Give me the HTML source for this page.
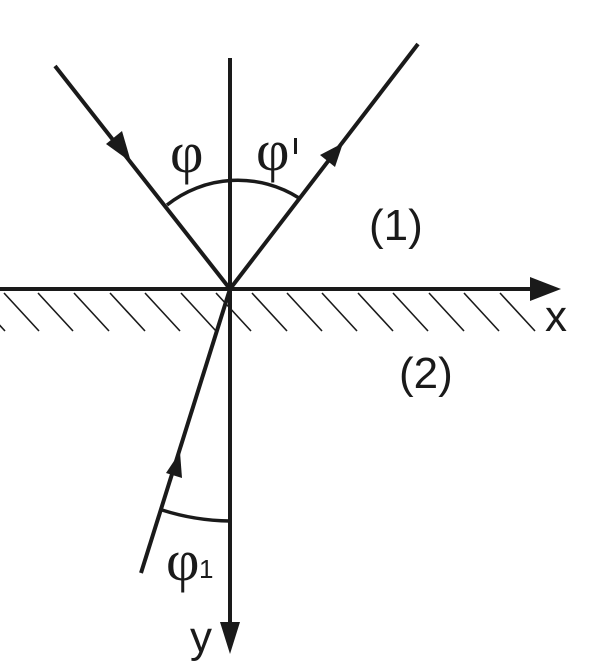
<!DOCTYPE html>
<html><head><style>body{margin:0;background:#fff}svg{display:block}</style></head><body>
<svg width="600" height="668" viewBox="0 0 600 668" xmlns="http://www.w3.org/2000/svg">
<g stroke="#1a1a1a" stroke-width="4" fill="none">
<line x1="230" y1="58" x2="230" y2="630"/>
<line x1="0" y1="289" x2="535" y2="289"/>
<line x1="55" y1="66" x2="230" y2="289"/>
<line x1="230" y1="289" x2="418" y2="44"/>
<line x1="230" y1="289" x2="141" y2="573"/>
<path d="M167 205 A114 114 0 0 1 299 198" stroke-width="3.5"/>
<path d="M162 510 A231 231 0 0 0 230 521" stroke-width="3.5"/>
</g>
<g stroke="#1a1a1a" stroke-width="1.6">
<line x1="-30" y1="293" x2="5" y2="331"/>
<line x1="4" y1="293" x2="39" y2="331"/>
<line x1="38" y1="293" x2="73" y2="331"/>
<line x1="74" y1="293" x2="109" y2="331"/>
<line x1="110" y1="293" x2="145" y2="331"/>
<line x1="145" y1="293" x2="180" y2="331"/>
<line x1="181" y1="293" x2="216" y2="331"/>
<line x1="216" y1="293" x2="251" y2="331"/>
<line x1="252" y1="293" x2="287" y2="331"/>
<line x1="287" y1="293" x2="322" y2="331"/>
<line x1="322" y1="293" x2="357" y2="331"/>
<line x1="358" y1="293" x2="393" y2="331"/>
<line x1="393" y1="293" x2="428" y2="331"/>
<line x1="429" y1="293" x2="464" y2="331"/>
<line x1="464" y1="293" x2="499" y2="331"/>
<line x1="500" y1="293" x2="535" y2="331"/>
</g>
<g fill="#1a1a1a">
<polygon points="561,289 530,277 530,301"/>
<polygon points="230,654 220,622 240,622"/>
<polygon points="131,162 106,144 122,131"/>
<polygon points="343,143 335,167 320,155"/>
<polygon points="180,452 182,478 166,473"/>
<rect x="294" y="138" width="3" height="16"/>
</g>
<g font-family="Liberation Serif, serif" font-size="58" fill="#1a1a1a">
<text x="170" y="172">φ</text>
<text x="256" y="170">φ</text>
<text x="166" y="580">φ</text>
</g>
<g font-family="Liberation Sans, sans-serif" fill="#1a1a1a" font-size="44">
<text x="199" y="578" font-size="26">1</text>
<text x="369" y="240">(1)</text>
<text x="399" y="388">(2)</text>
<text x="545" y="331">x</text>
<text x="190" y="652">y</text>
</g>
</svg>
</body></html>
